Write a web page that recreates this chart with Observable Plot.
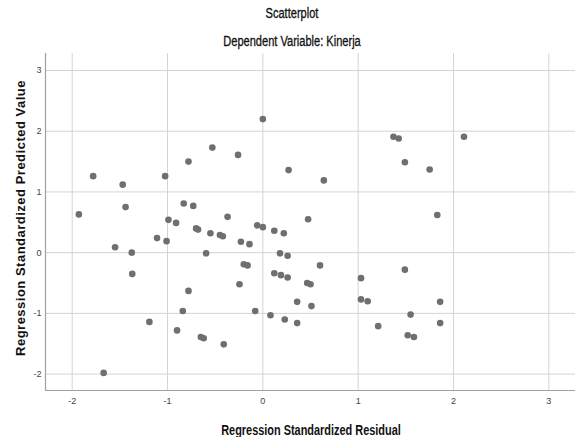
<!DOCTYPE html>
<html>
<head>
<meta charset="utf-8">
<script src="https://cdn.jsdelivr.net/npm/d3@7"></script>
<script src="https://cdn.jsdelivr.net/npm/@observablehq/plot@0.6"></script>
<style>
  html, body { margin: 0; padding: 0; background: #fff; }
  #wrap { position: relative; width: 575px; height: 437px; overflow: hidden; }
  .ttl { position: absolute; left: 292px; white-space: nowrap;
         transform: translate(-50%, -50%) scaleX(0.79);
         font-family: "Liberation Sans", Arial, sans-serif;
         color: #111; font-size: 14px; line-height: 16px; -webkit-text-stroke: 0.3px #111; }
  #chart { position: absolute; left: 0; top: 50px; }
  #ylab { position: absolute; left: 21px; top: 218px; transform: translate(-50%, -50%) rotate(-90deg);
          white-space: nowrap; font-family: "Liberation Sans", Arial, sans-serif; font-weight: bold;
          font-size: 13px; letter-spacing: 0.5px; line-height: 16px; color: #111; }
  #xlab { position: absolute; left: 311px; top: 430px; transform: translate(-50%, -50%) scaleX(0.78);
          white-space: nowrap; font-family: "Liberation Sans", Arial, sans-serif;
          font-weight: bold; font-size: 14px; line-height: 16px; color: #111; }
</style>
</head>
<body>
<div id="wrap">
  <div class="ttl" style="top:13px">Scatterplot</div>
  <div class="ttl" style="top:41px">Dependent Variable: Kinerja</div>
  <div id="chart"></div>
  <div id="ylab">Regression Standardized Predicted Value</div>
  <div id="xlab">Regression Standardized Residual</div>
</div>
<script>
const residual = [
  -1.93, -1.78, -1.47, -1.44, -1.55, -1.375, -1.37, -1.025, -0.78, -0.53,
  -0.26, 0.00, 0.27, -0.83, -0.73, -0.37, -0.99, -0.91, -0.70, -0.68,
  -0.55, -0.45, -0.42, -0.06, 0.00, 0.12, 0.22, -1.11, -1.01, -0.23,
  -0.14, -0.595, 0.18, 0.26, -0.20, -0.16, -0.245, 0.12, 0.19, 0.26,
  -0.78, -0.84, -0.08, 0.08, 0.23, 0.36, 0.36, -1.19, -0.90, -0.65,
  -0.62, -0.41, -1.67, 0.64, 0.475, 1.37, 1.425, 1.49, 1.75, 1.83,
  2.11, 0.60, 0.465, 0.50, 0.51, 1.03, 1.03, 1.10, 1.21, 1.49,
  1.55, 1.52, 1.585, 1.86, 1.86
];
const predicted = [
  0.63, 1.26, 1.12, 0.75, 0.09, 0.00, -0.35, 1.26, 1.50, 1.73,
  1.61, 2.20, 1.36, 0.81, 0.77, 0.59, 0.54, 0.49, 0.40, 0.38,
  0.32, 0.29, 0.27, 0.45, 0.42, 0.36, 0.32, 0.24, 0.19, 0.18,
  0.14, -0.01, -0.01, -0.05, -0.19, -0.21, -0.52, -0.34, -0.37, -0.41,
  -0.63, -0.96, -0.96, -1.03, -1.10, -1.16, -0.81, -1.14, -1.28, -1.39,
  -1.41, -1.51, -1.98, 1.19, 0.55, 1.91, 1.88, 1.49, 1.37, 0.62,
  1.91, -0.21, -0.50, -0.52, -0.88, -0.42, -0.77, -0.80, -1.21, -0.28,
  -1.02, -1.36, -1.39, -0.81, -1.16
];
const xTicks = [-2, -1, 0, 1, 2, 3];
const yTicks = [-2, -1, 0, 1, 2, 3];
const xDomain = [-2.28, 3.28];
const yDomain = [-2.27, 3.28];

const points = residual.map((r, i) => ({r, p: predicted[i]}));
const fmt = d => String(d);

const chart = Plot.plot({
  width: 575,
  height: 387,
  marginLeft: 45,
  marginRight: 0,
  marginTop: 3,
  marginBottom: 47,
  style: {fontFamily: "Liberation Sans, Arial, sans-serif", fontSize: "9px", color: "#444", background: "#fff"},
  x: {domain: xDomain, label: null},
  y: {domain: yDomain, label: null},
  marks: [
    Plot.gridX(xTicks, {stroke: "#d4d4d4", strokeOpacity: 1, strokeWidth: 1}),
    Plot.gridY(yTicks, {stroke: "#d4d4d4", strokeOpacity: 1, strokeWidth: 1}),
    Plot.ruleX([xDomain[0]], {stroke: "#a0a0a0", strokeWidth: 1.2}),
    Plot.ruleY([yDomain[0]], {stroke: "#a0a0a0", strokeWidth: 1.2}),
    Plot.axisX(xTicks, {tickSize: 0, tickPadding: 7, fill: "#444", fontSize: 9, tickFormat: fmt, label: null}),
    Plot.axisY(yTicks, {tickSize: 0, tickPadding: 4, fill: "#444", fontSize: 9, tickFormat: fmt, label: null}),
    Plot.dot(points, {x: "r", y: "p", r: 3.3, fill: "#6f6f6f", stroke: "none"})
  ]
});
document.getElementById("chart").appendChild(chart);
</script>
</body>
</html>
